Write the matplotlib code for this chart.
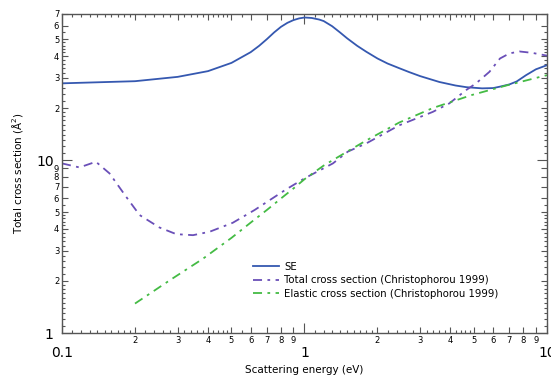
import numpy as np
import matplotlib
matplotlib.use('Agg')
import matplotlib.pyplot as plt
from matplotlib.ticker import FixedLocator, FuncFormatter

# SE
e_se = [0.1, 0.2, 0.3, 0.4, 0.5, 0.6, 0.65, 0.7, 0.75, 0.8, 0.85, 0.9, 0.95, 1.0, 1.07, 1.15, 1.2, 1.3, 1.4,
        1.5, 1.65, 1.8, 2.0, 2.2, 2.46, 2.7, 3.0, 3.6, 4.2, 4.66, 5.4, 6.0, 6.4, 7.0, 7.5, 8.2, 9.0, 10.0]
se = [27.8, 28.6, 30.3, 32.7, 36.5, 42.1, 45.8, 50.1, 54.8, 59.0, 62.2, 64.5, 66.0, 66.8, 66.4, 65.0, 63.7,
      59.5, 54.8, 50.6, 45.8, 42.3, 38.7, 36.2, 34.0, 32.3, 30.6, 28.3, 27.0, 26.4, 26.0, 26.1, 26.6, 27.4,
      28.5, 31.0, 33.5, 35.4]

# Total cross section (Christophorou 1999)
e_tot = [0.1, 0.118, 0.138, 0.157, 0.184, 0.209, 0.252, 0.296, 0.347, 0.406, 0.506, 0.622, 0.84, 1.0,
         1.31, 1.51, 1.8, 2.46, 3.38, 3.96, 4.64, 5.1, 5.79, 6.4, 7.0, 7.7, 8.7, 10.0]
tot = [9.57, 9.07, 9.78, 8.38, 6.13, 4.81, 4.08, 3.73, 3.68, 3.85, 4.34, 5.14, 6.77, 7.84,
       9.57, 11.2, 12.5, 15.9, 19.0, 21.3, 25.4, 27.8, 32.4, 38.7, 41.4, 42.5, 41.7, 40.2]

# Elastic cross section (Christophorou 1999)
e_el = [0.2, 0.28, 0.38, 0.5, 0.6, 0.7, 0.8, 0.9, 1.0, 1.2, 1.5, 1.8, 2.46, 3.38, 4.9, 6.79, 10.0]
el = [1.48, 2.03, 2.68, 3.55, 4.35, 5.15, 6.0, 6.85, 7.75, 9.3, 11.2, 13.0, 16.5, 20.0, 23.8, 27.0, 31.0]

fig = plt.figure(figsize=(5.51, 3.77), dpi=100)
ax = fig.add_axes([0.1125, 0.1167, 0.8802, 0.8462])

ax.plot(e_se, se, color='#3558b0', lw=1.3, label='SE')
ax.plot(e_tot, tot, color='#6a4fb8', lw=1.3, dashes=(5, 3, 1.5, 3),
        label='Total cross section (Christophorou 1999)')
ax.plot(e_el, el, color='#44bb44', lw=1.3, dashes=(5, 3, 1.5, 3),
        label='Elastic cross section (Christophorou 1999)')

ax.set_xscale('log')
ax.set_yscale('log')
ax.set_xlim(0.1, 10)
ax.set_ylim(1, 70)


def fine(decades):
    out = []
    for d in decades:
        for m in np.concatenate([np.arange(1.1, 2.0, 0.1), np.arange(2.2, 5.0, 0.2), [5.5]]):
            if abs(m - round(m)) > 1e-6:
                out.append(m * d)
        for m in range(2, 10):
            out.append(m * d)
    return out


def minor_fmt(v, pos):
    m = v / 10 ** np.floor(np.log10(v) + 1e-9)
    if abs(m - round(m)) < 1e-6:
        return '%d' % round(m)
    return ''


def major_fmt(v, pos):
    if v >= 1:
        return '%d' % round(v)
    return '%g' % v


ax.xaxis.set_major_locator(FixedLocator([0.1, 1, 10]))
ax.xaxis.set_minor_locator(FixedLocator(fine([0.1, 1])))
ax.yaxis.set_major_locator(FixedLocator([1, 10]))
ax.yaxis.set_minor_locator(FixedLocator(fine([1, 10])))
for a in (ax.xaxis, ax.yaxis):
    a.set_major_formatter(FuncFormatter(major_fmt))
    a.set_minor_formatter(FuncFormatter(minor_fmt))

ax.tick_params(which='both', direction='in', top=True, right=True, color='#555555', width=0.8)
ax.tick_params(which='major', length=7, labelsize=10, pad=6)
ax.tick_params(which='minor', length=2, labelsize=6, pad=2)
ax.tick_params(axis='x', which='major', pad=9)
for s in ax.spines.values():
    s.set_color('#555555')
    s.set_linewidth(1.0)

# longer ticks for labelled minors
fig.canvas.draw()
for axis in (ax.xaxis, ax.yaxis):
    locs = axis.get_minorticklocs()
    for t, v in zip(axis.get_minor_ticks(), locs):
        m = v / 10 ** np.floor(np.log10(v) + 1e-9)
        if abs(m - round(m)) < 1e-6:
            t.tick1line.set_markersize(4.5)
            t.tick2line.set_markersize(4.5)

ax.set_xlabel('Scattering energy (eV)', fontsize=7.5, labelpad=4)
ax.set_ylabel('Total cross section (Å$^2$)', fontsize=7.5, labelpad=8)

ax.legend(loc='upper left', bbox_to_anchor=(0.383, 0.24), frameon=False, fontsize=7.3,
          handlelength=2.6, handletextpad=0.5, labelspacing=0.35, borderpad=0)

fig.savefig('out.png', dpi=100)
